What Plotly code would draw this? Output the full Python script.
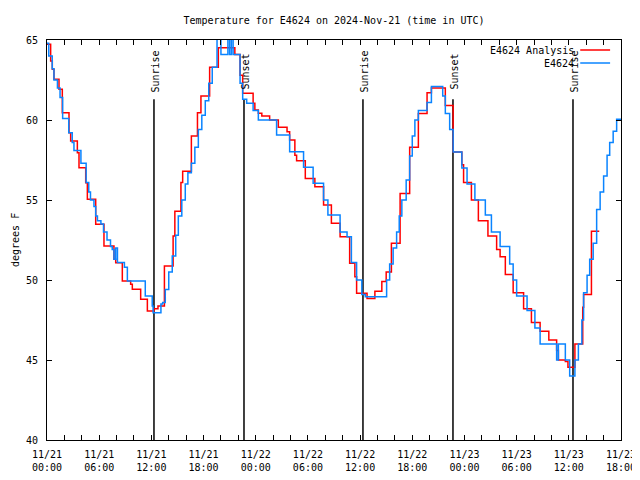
import pandas as pd
import plotly.graph_objects as go

# ---- data (hours after 2024-11-21 00:00 UTC, degrees F) ----
analysis_hours = [0.0, 0.42, 0.61, 0.8, 1.38, 1.76, 2.53, 2.72, 3.49, 3.68, 4.45, 4.64, 5.6, 6.55, 7.7, 7.9,
                  8.66, 9.62, 9.81, 10.77, 11.54, 12.3, 12.76, 13.5, 14.5, 14.7, 15.4, 15.6, 16.6, 17.3, 17.7,
                  18.7, 19.7, 21.6, 22.2, 22.5, 23.7, 23.9, 24.3, 24.7, 25.6, 26.6, 27.6, 27.9, 28.5, 28.7,
                  29.7, 30.8, 31.8, 32.7, 33.7, 34.8, 35.4, 35.6, 36.8, 37.7, 38.5, 39.0, 39.6, 40.6, 41.7,
                  42.7, 43.7, 44.2, 45.8, 46.7, 47.7, 47.9, 48.8, 49.6, 50.7, 51.7, 52.1, 52.7, 53.6, 54.8,
                  55.7, 56.7, 57.7, 58.6, 58.8, 59.6, 59.9, 60.7, 61.6, 61.7, 62.6, 63.5]
analysis_temps = [64.73, 63.69, 63.17, 62.54, 61.92, 60.46, 59.2, 58.69, 57.96, 57.02, 56.08, 55.04, 53.48, 52.12, 51.29, 51.08,
                  49.94, 49.73, 49.42, 48.79, 48.06, 48.2, 48.38, 50.88, 52.75, 54.3, 56.1, 56.8, 59.0, 60.46, 61.5,
                  63.3, 64.52, 64.1, 62.8, 61.67, 61.04, 60.63, 60.42, 60.25, 60.0, 59.54, 59.27, 58.75, 57.8, 57.46,
                  56.35, 55.83, 54.69, 53.54, 52.71, 51.04, 50.2, 49.17, 48.85, 49.3, 49.9, 50.5, 52.3, 55.4, 58.3,
                  60.4, 61.7, 62.0, 60.9, 58.0, 57.2, 56.1, 55.0, 53.7, 52.75, 51.9, 51.45, 50.35, 49.2, 48.2,
                  47.35, 46.8, 46.25, 45.6, 45.0, 44.9, 44.55, 46.0, 48.3, 49.1, 53.05, 53.05]

station_hours = [0.0, 0.2, 0.6, 0.8, 1.2, 1.5, 1.8, 2.5, 2.9, 3.1, 3.9, 4.5, 4.8, 5.0, 5.4, 5.6, 5.8, 6.2, 6.5,
                 6.9, 7.3, 7.5, 7.7, 7.9, 8.1, 8.9, 9.24, 11.3, 12.1, 12.2, 13.1, 13.3, 13.6, 14.0, 14.4, 14.8,
                 15.1, 15.5, 15.9, 16.2, 16.6, 17.0, 17.4, 17.8, 18.2, 18.6, 19.0, 19.55, 20.0, 20.8, 21.0, 21.2,
                 21.4, 22.2, 22.5, 22.96, 23.7, 24.3, 26.4, 27.9, 29.5, 30.6, 31.8, 32.3, 33.7, 34.5, 35.0, 35.6,
                 36.2, 36.6, 39.05, 39.4, 39.8, 40.2, 40.5, 40.8, 41.3, 41.7, 42.0, 42.3, 42.7, 43.7, 44.2, 45.5,
                 45.8, 46.3, 46.7, 47.7, 48.3, 49.2, 50.4, 51.1, 52.1, 53.2, 53.6, 54.0, 55.2, 56.1, 56.7, 58.6,
                 58.8, 59.6, 60.1, 60.7, 61.1, 61.5, 61.7, 62.1, 62.4, 62.8, 63.2, 63.6, 64.0, 64.4, 64.7, 65.1,
                 65.5, 66.0]
station_temps = [64.8, 64.0, 63.2, 62.5, 62.0, 61.4, 60.1, 59.2, 58.6, 58.1, 57.3, 56.1, 55.5, 55.0, 54.6, 54.0, 53.7, 53.5, 53.0,
                 52.5, 52.1, 51.9, 51.3, 52.0, 51.1, 50.8, 49.94, 49.0, 48.38, 47.96, 48.5, 48.6, 49.4, 50.5, 51.5, 52.8,
                 54.0, 55.0, 56.0, 56.7, 57.3, 58.3, 59.4, 60.3, 61.2, 62.3, 63.3, 65.4, 64.1, 65.4, 64.1, 65.4,
                 64.1, 62.3, 61.3, 61.04, 60.6, 60.0, 59.06, 58.02, 57.04, 56.04, 55.0, 54.06, 53.0, 52.7, 51.1, 50.0,
                 49.1, 48.96, 50.0, 51.0, 52.0, 53.0, 54.0, 55.0, 56.25, 57.75, 59.0, 60.0, 60.6, 61.1, 62.1, 61.5,
                 60.4, 59.4, 58.0, 57.0, 56.0, 55.0, 54.06, 53.0, 52.1, 51.0, 50.0, 49.0, 48.1, 47.0, 46.0, 45.0,
                 46.0, 45.0, 44.0, 45.0, 46.0, 47.5, 49.2, 50.3, 51.3, 52.3, 54.4, 55.5, 56.5, 57.8, 58.6, 59.3,
                 60.04, 60.04]

sun_event_hours = [12.3, 22.65, 36.33, 46.68, 60.48]
sun_event_labels = ["Sunrise", "Sunset", "Sunrise", "Sunset", "Sunrise"]

base = pd.Timestamp("2024-11-21 00:00")
def to_time(hours):
    return [base + pd.Timedelta(hours=h) for h in hours]

FONT = "DejaVu Sans Mono"
RED = "#ff0000"
BLUE = "#0a84ff"

fig = go.Figure()
fig.add_trace(go.Scatter(x=to_time(analysis_hours), y=analysis_temps, mode="lines",
                         line=dict(color=RED, width=1.5, shape="hv"), name="E4624 Analysis"))
fig.add_trace(go.Scatter(x=to_time(station_hours), y=station_temps, mode="lines",
                         line=dict(color=BLUE, width=1.5, shape="hv"), name="E4624"))

for t, lab in zip(to_time(sun_event_hours), sun_event_labels):
    fig.add_shape(type="line", xref="x", yref="y", x0=t, x1=t, y0=40, y1=61.3,
                  line=dict(color="black", width=1.5), layer="below")
    fig.add_annotation(x=t, y=63.06, xref="x", yref="y", text=lab, textangle=-90,
                       showarrow=False, xshift=1.5, font=dict(family=FONT, size=10, color="black"))

# custom gnuplot-style legend (text right-aligned, sample to its right)
legend_items = [("E4624 Analysis", RED, 0.975), ("E4624", BLUE, 0.9425)]
for txt, col, yy in legend_items:
    fig.add_annotation(x=0.922, y=yy, xref="paper", yref="paper", text=txt, showarrow=False,
                       xanchor="right", yanchor="middle", font=dict(family=FONT, size=10, color="black"))
    fig.add_shape(type="line", xref="paper", yref="paper", x0=0.929, x1=0.981, y0=yy, y1=yy,
                  line=dict(color=col, width=1.5))

# y-axis title placed like gnuplot's ylabel
fig.add_annotation(x=0, y=0.5, xref="paper", yref="paper", text="degrees F", textangle=-90,
                   showarrow=False, xanchor="center", yanchor="middle", xshift=-32,
                   font=dict(family=FONT, size=10, color="black"))

fig.update_layout(
    width=632, height=472,
    margin=dict(l=39, r=19, t=32, b=40, autoexpand=False),
    paper_bgcolor="white", plot_bgcolor="white",
    showlegend=False,
    font=dict(family=FONT, size=10, color="black"),
    title=dict(text="Temperature for E4624 on 2024-Nov-21 (time in UTC)", x=0.5, xref="paper",
               xanchor="center", y=1 - 12 / 472, yanchor="middle", font=dict(family=FONT, size=10)),
)
fig.update_xaxes(
    type="date",
    range=[base, base + pd.Timedelta(hours=66)],
    dtick=6 * 3600 * 1000, tick0=base,
    tickformat="%m/%d<br>%H:%M",
    ticks="inside", ticklen=5, tickcolor="black", tickwidth=1,
    minor=dict(dtick=2 * 3600 * 1000, ticks="inside", ticklen=5, tickcolor="black", tickwidth=1),
    showline=True, linecolor="black", linewidth=1, mirror="ticks",
    showgrid=False, zeroline=False, automargin=False,
    ticklabelstandoff=5,
    tickfont=dict(family=FONT, size=10),
)
fig.update_yaxes(
    range=[40, 65], dtick=5,
    ticks="inside", ticklen=5, tickcolor="black", tickwidth=1,
    showline=True, linecolor="black", linewidth=1, mirror="ticks",
    showgrid=False, zeroline=False, automargin=False,
    ticklabelstandoff=6,
    tickfont=dict(family=FONT, size=10),
)

fig.write_html("out.html")
